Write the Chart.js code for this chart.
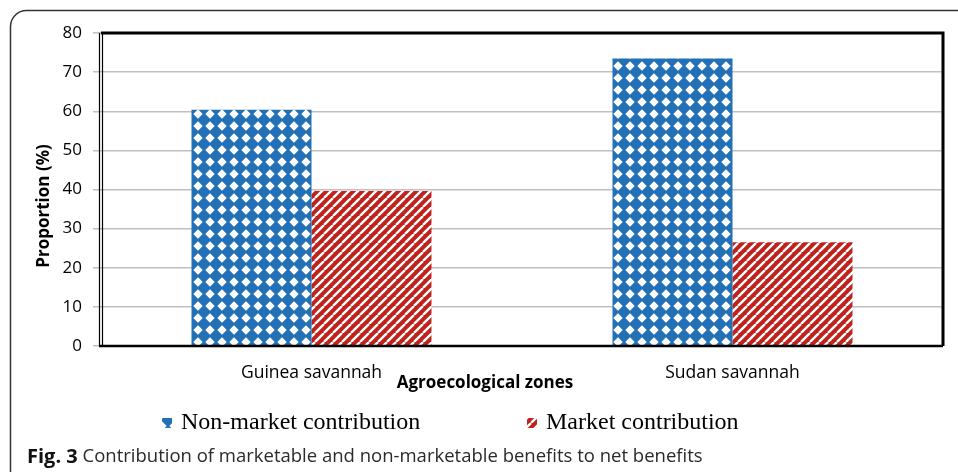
<!DOCTYPE html>
<html>
<head>
<meta charset="utf-8">
<script src="https://cdn.jsdelivr.net/npm/chart.js@4"></script>
<style>
  html, body { margin: 0; padding: 0; background: #fff; }
  #wrap { position: relative; width: 958px; height: 472px; }
</style>
</head>
<body>
<div id="wrap"><canvas id="c" width="958" height="472"></canvas></div>
<script>
const categories = ["Guinea savannah", "Sudan savannah"];
const seriesNames = ["Non-market contribution", "Market contribution"];
const nonMarket = [60.4, 73.5];
const market = [39.6, 26.5];
const yTicks = [0, 10, 20, 30, 40, 50, 60, 70, 80];
const yTitle = "Proportion (%)";
const xTitle = "Agroecological zones";
const captionBold = "Fig. 3";
const captionText = " Contribution of marketable and non-marketable benefits to net benefits";

const BLUE = "#2270b6";
const RED = "#c0221b";

function diamondPattern() {
  const s = 12;
  const c = document.createElement("canvas");
  c.width = s; c.height = s;
  const x = c.getContext("2d");
  x.fillStyle = BLUE; x.fillRect(0, 0, s, s);
  x.fillStyle = "#ffffff";
  x.beginPath();
  x.moveTo(6, 1.3); x.lineTo(10.7, 6); x.lineTo(6, 10.7); x.lineTo(1.3, 6); x.closePath();
  x.fill();
  return x.createPattern(c, "repeat");
}
function stripePattern() {
  const s = 9;
  const c = document.createElement("canvas");
  c.width = s; c.height = s;
  const x = c.getContext("2d");
  x.fillStyle = RED; x.fillRect(0, 0, s, s);
  x.strokeStyle = "#ffffff"; x.lineWidth = 2.4;
  x.beginPath();
  for (let k = -1; k <= 1; k++) {
    x.moveTo(k * s, s); x.lineTo(k * s + s, 0);
  }
  x.stroke();
  return x.createPattern(c, "repeat");
}
const ctx0 = document.getElementById("c").getContext("2d");
const bluePat = diamondPattern();
const redPat = stripePattern();

const decor = {
  id: "decor",
  beforeDraw(chart) {
    const ctx = chart.ctx;
    ctx.save();
    ctx.fillStyle = "#fff";
    ctx.fillRect(0, 0, chart.width, chart.height);
    ctx.strokeStyle = "#333";
    ctx.lineWidth = 1.5;
    ctx.beginPath();
    ctx.moveTo(10.5, 472);
    ctx.lineTo(10.5, 26);
    ctx.arcTo(10.5, 10.5, 26, 10.5, 16);
    ctx.lineTo(958, 10.5);
    ctx.stroke();
    ctx.restore();
  },
  afterDraw(chart) {
    const ctx = chart.ctx;
    const a = chart.chartArea;
    ctx.save();
    ctx.strokeStyle = "#000";
    ctx.lineWidth = 3;
    ctx.beginPath();
    ctx.moveTo(a.left, a.top); ctx.lineTo(a.right, a.top); ctx.lineTo(a.right, a.bottom);
    ctx.stroke();
    ctx.lineWidth = 2.5;
    ctx.beginPath();
    ctx.moveTo(a.left - 2, a.bottom); ctx.lineTo(a.right, a.bottom);
    ctx.stroke();
    ctx.lineWidth = 1.2;
    ctx.beginPath();
    ctx.moveTo(a.left - 1.5, a.top); ctx.lineTo(a.left - 1.5, a.bottom);
    ctx.moveTo(a.left + 1.5, a.top); ctx.lineTo(a.left + 1.5, a.bottom);
    ctx.stroke();
    // y title
    ctx.fillStyle = "#000";
    ctx.font = "bold 17px 'Open Sans'";
    ctx.textAlign = "center"; ctx.textBaseline = "middle";
    ctx.save();
    ctx.translate(44, 206);
    ctx.rotate(-Math.PI / 2);
    ctx.fillText(yTitle, 0, 0);
    ctx.restore();
    // x title
    ctx.font = "bold 17px 'Open Sans'";
    ctx.fillText(xTitle, 485, 383);
    // legend
    const items = [
      { name: seriesNames[0], pat: bluePat, x: 162 },
      { name: seriesNames[1], pat: redPat, x: 527 }
    ];
    ctx.font = "24px 'Liberation Serif'";
    ctx.textAlign = "left";
    items.forEach(it => {
      ctx.fillStyle = it.pat;
      ctx.fillRect(it.x, 418, 10, 10);
      ctx.fillStyle = "#000";
      ctx.fillText(it.name, it.x + 19, 423);
    });
    // caption
    ctx.font = "bold 20px 'Open Sans'";
    ctx.fillStyle = "#111";
    ctx.fillText(captionBold, 27, 457);
    const w = ctx.measureText(captionBold).width;
    ctx.font = "18.5px 'Open Sans'";
    ctx.fillStyle = "#2a2a2a";
    ctx.fillText(captionText, 27 + w, 457);
    ctx.restore();
  }
};

new Chart(ctx0, {
  type: "bar",
  data: {
    labels: categories,
    datasets: [
      { label: seriesNames[0], data: nonMarket, backgroundColor: bluePat, borderWidth: 0 },
      { label: seriesNames[1], data: market, backgroundColor: redPat, borderWidth: 0 }
    ]
  },
  options: {
    responsive: false,
    animation: false,
    events: [],
    layout: { padding: { left: 0, top: 33, right: 15, bottom: 0 } },
    plugins: { legend: { display: false }, tooltip: { enabled: false } },
    datasets: { bar: { categoryPercentage: 0.57, barPercentage: 1.0 } },
    scales: {
      x: {
        grid: { display: false, drawTicks: false },
        border: { display: false },
        ticks: { color: "#000", font: { family: "'Open Sans'", size: 17.5 }, padding: 17 },
        afterFit(s) { s.height = 126; }
      },
      y: {
        min: 0, max: 80,
        afterBuildTicks(s) { s.ticks = yTicks.map(v => ({ value: v })); },
        grid: { color: "#bfbfbf", lineWidth: 1.5, tickLength: 8, tickColor: "#bfbfbf" },
        border: { display: false },
        ticks: { color: "#000", font: { family: "'Open Sans'", size: 17 }, padding: 11 },
        afterFit(s) { s.width = 101; }
      }
    }
  },
  plugins: [decor]
});
</script>
</body>
</html>
